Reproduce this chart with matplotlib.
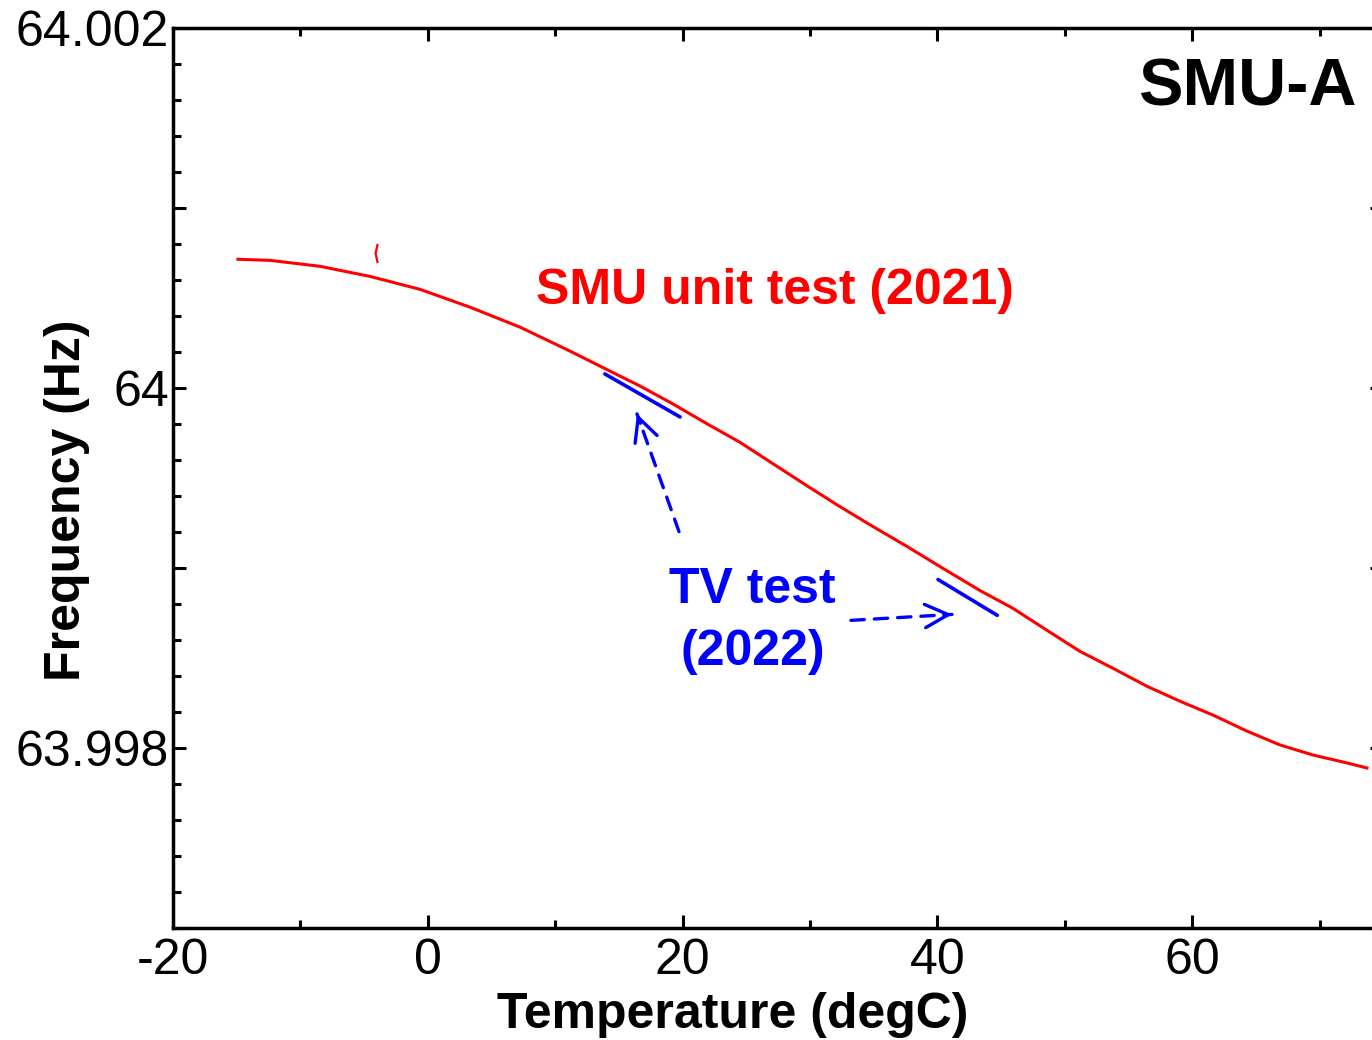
import numpy as np
import matplotlib
matplotlib.use("Agg")
import matplotlib.pyplot as plt
from matplotlib.ticker import MultipleLocator, FuncFormatter

plt.rcParams['font.family'] = ['Liberation Sans', 'DejaVu Sans']
plt.rcParams['axes.unicode_minus'] = False

# ---- donnees ----
# courbe du test unitaire SMU (2021)
temp_smu = [-14.90, -12.39, -8.46, -4.54, -0.61, 3.31, 7.24, 11.16, 15.09, 16.66,
            19.25, 21.92, 24.51, 27.10, 29.76, 32.35, 34.95, 37.61, 40.20, 43.34,
            45.93, 48.60, 51.19, 53.78, 56.45, 59.04, 61.63, 64.30, 66.89, 69.48,
            72.15, 73.72]
freq_smu = [64.000715, 64.000709, 64.000676, 64.000620, 64.000548, 64.000449,
            64.000338, 64.000205, 64.000066, 64.000011, 63.999911, 63.999801,
            63.999698, 63.999579, 63.999457, 63.999341, 63.999230, 63.999120,
            63.999008, 63.998875, 63.998776, 63.998654, 63.998537, 63.998443,
            63.998343, 63.998260, 63.998183, 63.998094, 63.998017, 63.997961,
            63.997917, 63.997889]

# petite marque rouge isolee
temp_mark = [-3.95, -4.1, -3.95]
freq_mark = [64.000795, 64.000748, 64.000700]

# segments du test TV (2022)
tv_seg1_t = [13.9, 19.8]
tv_seg1_f = [64.000078, 63.999839]
tv_seg2_t = [40.05, 44.7]
tv_seg2_f = [63.998936, 63.998737]

x_ticks = [-20, 0, 20, 40, 60]
y_labels = {64.002: '64.002', 64.0: '64', 63.998: '63.998'}

# ---- figure ----
fig = plt.figure(figsize=(13.72, 10.4), dpi=100)
ax = fig.add_axes([0.1261, 0.1077, 0.8821, 0.8654])

ax.plot(temp_smu, freq_smu, color='red', lw=2.2)
ax.plot(temp_mark, freq_mark, color='red', lw=1.6)
ax.plot(tv_seg1_t, tv_seg1_f, color='blue', lw=2.6, solid_capstyle='round')
ax.plot(tv_seg2_t, tv_seg2_f, color='blue', lw=2.6, solid_capstyle='round')

ax.set_xlim(-20, 75)
ax.set_ylim(63.997, 64.002)

# fleches pointillees : trait en tirets + pointe pleine
def fleche(tete, queue):
    ax.annotate('', xy=tete, xytext=queue,
                arrowprops=dict(arrowstyle='-', color='blue', lw=2.4,
                                linestyle=(0, (4, 3)), shrinkA=0, shrinkB=0))
    # petit bout plein juste avant la pointe
    près = (tete[0] + 0.08 * (queue[0] - tete[0]), tete[1] + 0.08 * (queue[1] - tete[1]))
    ax.annotate('', xy=tete, xytext=près,
                arrowprops=dict(arrowstyle='->', color='blue', lw=2.4,
                                mutation_scale=42, shrinkA=0, shrinkB=0))

fleche((16.42, 63.999856), (19.72, 63.999202))
fleche((41.15, 63.998742), (33.22, 63.998709))

# textes
ax.text(27.25, 64.000537, 'SMU unit test (2021)', color='red', fontsize=36,
        fontweight='bold', ha='center', va='center')
ax.text(25.5, 63.998704, 'TV test\n(2022)', color='blue', fontsize=36,
        fontweight='bold', ha='center', va='center', multialignment='center',
        linespacing=1.45)
ax.text(72.94, 64.001662, 'SMU-A', color='black', fontsize=48,
        fontweight='bold', ha='right', va='center')

# axes, graduations
ax.set_xticks(x_ticks)
ax.xaxis.set_minor_locator(MultipleLocator(10))
ax.yaxis.set_major_locator(MultipleLocator(0.001))
ax.yaxis.set_minor_locator(MultipleLocator(0.0002))

def fmt_y(v, pos):
    for k, lab in y_labels.items():
        if abs(v - k) < 1e-7:
            return lab
    return ''

ax.yaxis.set_major_formatter(FuncFormatter(fmt_y))

ax.tick_params(which='both', direction='in', top=True, right=True, width=2.2)
ax.tick_params(which='major', length=9.5)
ax.tick_params(which='minor', length=5.5)
ax.tick_params(axis='x', which='major', labelsize=36, pad=7)
ax.tick_params(axis='y', which='major', labelsize=36, pad=3)

for s in ax.spines.values():
    s.set_linewidth(2.5)

ax.set_xlabel('Temperature (degC)', fontsize=36, fontweight='bold', va='center')
ax.xaxis.set_label_coords(0.4628, -0.0967)
ax.set_ylabel('Frequency (Hz)', fontsize=36, fontweight='bold', va='center')
ax.yaxis.set_label_coords(-0.0876, 0.4756)

fig.savefig('out.png', dpi=100)
